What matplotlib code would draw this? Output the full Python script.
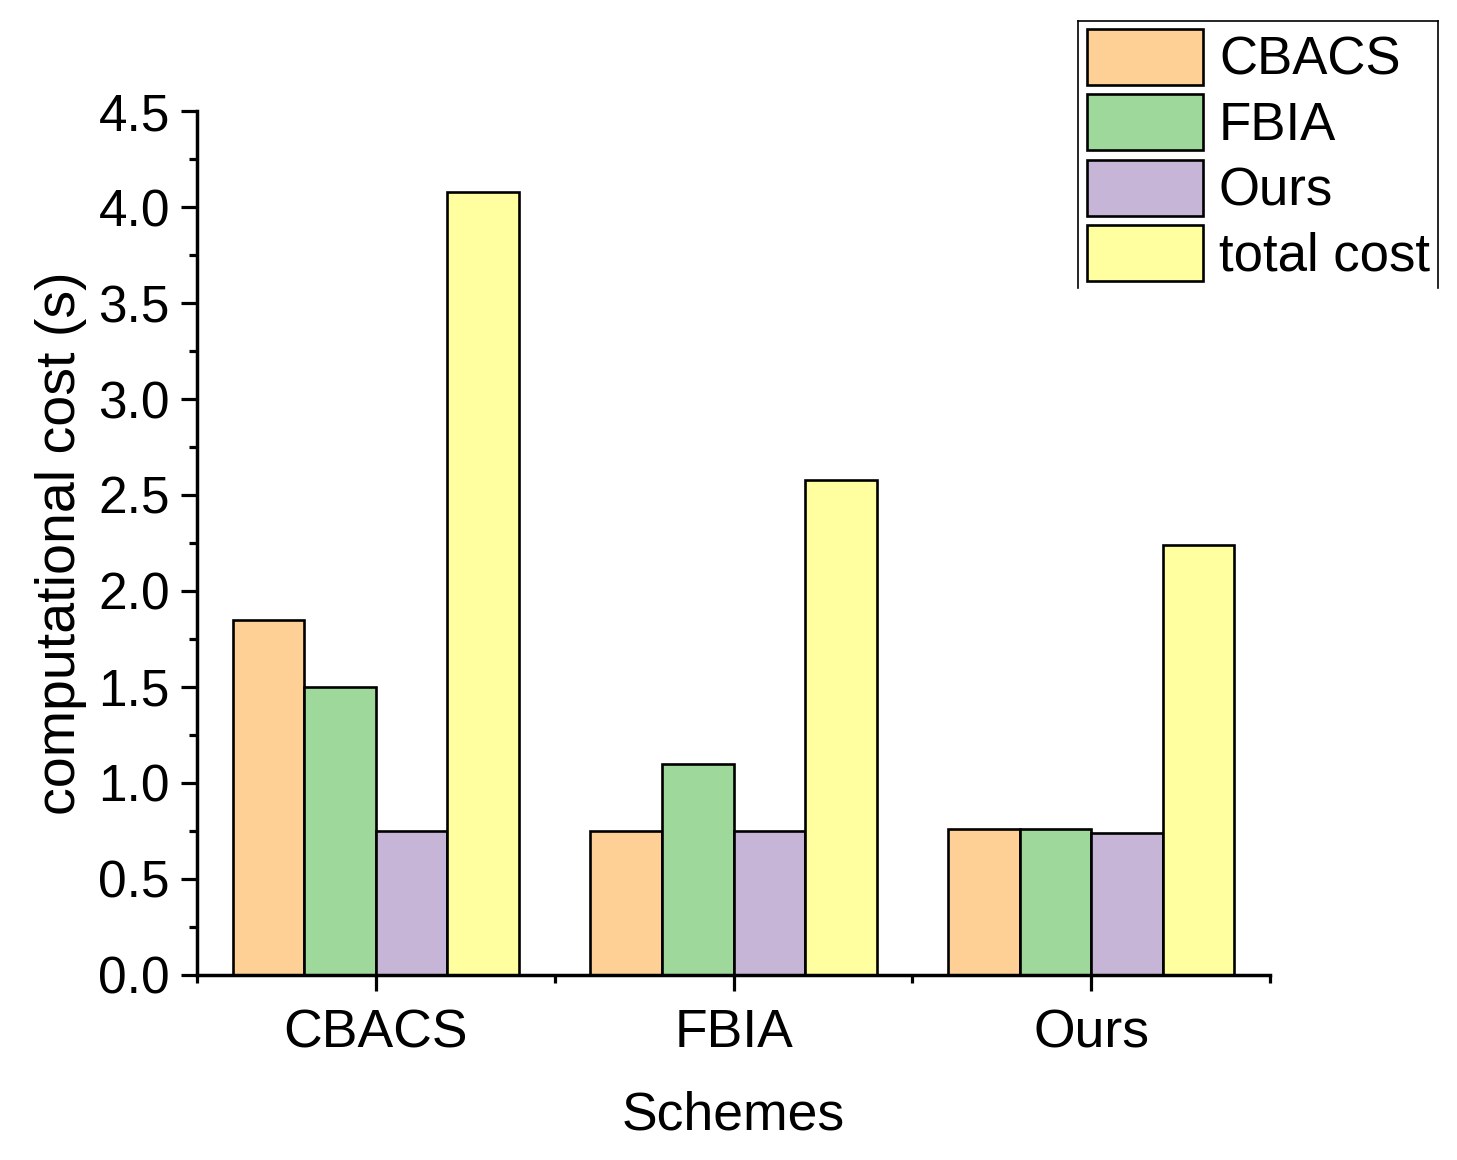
import numpy as np
import matplotlib.pyplot as plt
from matplotlib.lines import Line2D

plt.rcParams['font.family'] = ['Liberation Sans', 'DejaVu Sans']

# data
schemes = ["CBACS", "FBIA", "Ours"]
series = ["CBACS", "FBIA", "Ours", "total cost"]
cbacs = [1.85, 0.75, 0.76]
fbia = [1.50, 1.10, 0.76]
ours = [0.75, 0.75, 0.74]
total = [4.08, 2.58, 2.24]
colors = ["#FFD096", "#9ED89B", "#C6B5D6", "#FFFFA0"]

fig = plt.figure(figsize=(14.57, 11.6), dpi=100)
ax = fig.add_axes([0.1352, 0.1595, 0.8717 - 0.1352, 0.9043 - 0.1595])

x = np.arange(1, len(schemes) + 1)
width = 0.2
handles = []
for i, vals in enumerate([cbacs, fbia, ours, total]):
    b = ax.bar(x + (i - 1.5) * width, vals, width, color=colors[i],
               edgecolor="black", linewidth=1.9, label=series[i], zorder=2)
    handles.append(b)

ax.set_xlim(0.5, 3.5)
ax.set_ylim(0, 4.5)
ax.set_xticks(x)
ax.set_xticklabels(schemes)
ax.set_xticks([0.5, 1.5, 2.5, 3.5], minor=True)
ax.set_yticks(np.arange(0, 4.51, 0.5))
ax.set_yticklabels([f"{v:.1f}" for v in np.arange(0, 4.51, 0.5)])
ax.set_yticks(np.arange(0.25, 4.5, 0.5), minor=True)

for s in ["top", "right"]:
    ax.spines[s].set_visible(False)
for s in ["left", "bottom"]:
    ax.spines[s].set_linewidth(2.5)

ax.tick_params(axis="both", which="major", direction="out", length=11.5,
               width=2.3)
ax.tick_params(axis="both", which="minor", direction="out", length=5.5,
               width=2.3)
ax.tick_params(axis="y", which="major", pad=8, labelsize=37)
ax.tick_params(axis="x", which="major", pad=12.5, labelsize=38.5)

ax.set_xlabel("Schemes", fontsize=38.5, labelpad=23.5)
ax.set_ylabel("computational cost (s)", fontsize=40, labelpad=8)

leg = fig.legend(handles=handles, labels=series, loc="upper left",
                 bbox_to_anchor=(1087 / 1457, 1 - 29 / 1160),
                 fontsize=38, frameon=False, handlelength=2.2,
                 handleheight=1.26, labelspacing=0.16, handletextpad=0.3,
                 borderpad=0.0, borderaxespad=0.0)
for h in leg.legend_handles:
    h.set_linewidth(1.9)

# legend frame (bottom edge is cut off in the reference)
L, R, T, B = 1078 / 1457, 1438 / 1457, 1 - 21 / 1160, 1 - 288 / 1160
for xs, ys in [([L, R], [T, T]), ([L, L], [T, B]), ([R, R], [T, B])]:
    fig.add_artist(Line2D(xs, ys, color="black", linewidth=1.2,
                          transform=fig.transFigure))

fig.savefig("out.png", dpi=100)
